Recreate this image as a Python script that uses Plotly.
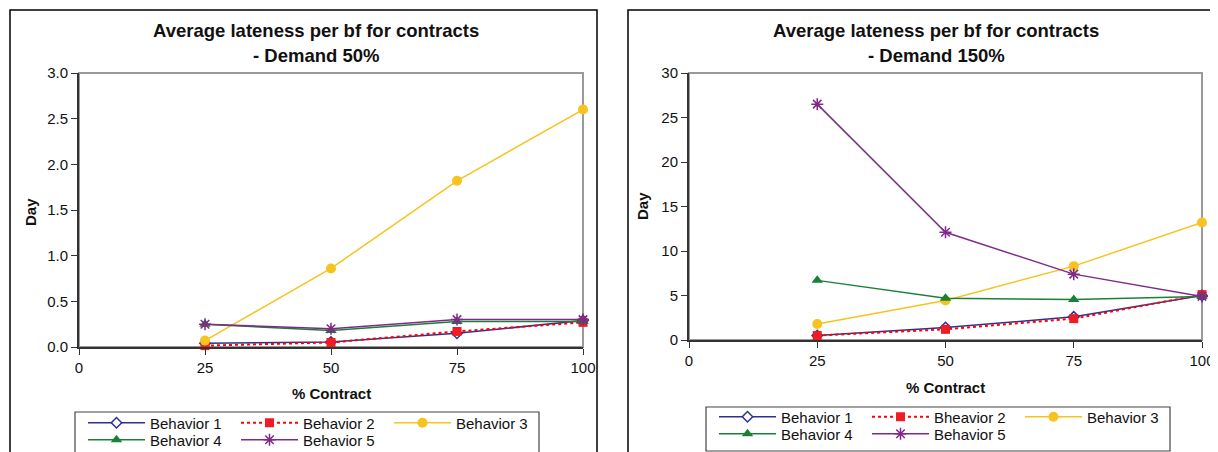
import plotly.graph_objects as go

# The page body adds an 8px offset; the figure is laid out in reference pixels shifted by it.
OFF = 8
W, H = 1210, 444

contract_pct = [25, 50, 75, 100]
series_names_left = ["Behavior 1", "Behavior 2", "Behavior 3", "Behavior 4", "Behavior 5"]
series_names_right = ["Behavior 1", "Bheavior 2", "Behavior 3", "Behavior 4", "Behavior 5"]

# Demand 50%
d50_b1 = [0.04, 0.055, 0.15, 0.29]
d50_b2 = [0.015, 0.05, 0.17, 0.27]
d50_b3 = [0.07, 0.86, 1.82, 2.60]
d50_b4 = [0.25, 0.18, 0.28, 0.28]
d50_b5 = [0.25, 0.20, 0.30, 0.30]

# Demand 150%
d150_b1 = [0.5, 1.4, 2.6, 5.0]
d150_b2 = [0.5, 1.2, 2.4, 5.1]
d150_b3 = [1.8, 4.45, 8.3, 13.2]
d150_b4 = [6.7, 4.7, 4.55, 4.9]
d150_b5 = [26.5, 12.1, 7.4, 4.9]

x_ticks = [0, 25, 50, 75, 100]

FONT = "Liberation Sans, Arial, sans-serif"
styles = [
    dict(line=dict(color="#2E3192", width=1.5),
         marker=dict(symbol="diamond", size=8, color="white", line=dict(color="#2E3192", width=1.5))),
    dict(line=dict(color="#FF0000", width=2, dash="dot"),
         marker=dict(symbol="square", size=9, color="#EE1C25", line=dict(width=0))),
    dict(line=dict(color="#F7C31E", width=1.5),
         marker=dict(symbol="circle", size=10, color="#F7C31E", line=dict(width=0))),
    dict(line=dict(color="#1A8038", width=1.5),
         marker=dict(symbol="triangle-up", size=10, color="#1A8038", line=dict(width=0))),
    dict(line=dict(color="#7F2A88", width=1.5),
         marker=dict(symbol="asterisk-open", size=10, color="#7F2A88", line=dict(color="#7F2A88", width=1.5))),
]

fig = go.Figure()

left_data = [d50_b1, d50_b2, d50_b3, d50_b4, d50_b5]
right_data = [d150_b1, d150_b2, d150_b3, d150_b4, d150_b5]

for i, (name, ys) in enumerate(zip(series_names_left, left_data)):
    fig.add_trace(go.Scatter(x=contract_pct, y=ys, name=name, mode="lines+markers",
                             xaxis="x", yaxis="y", legend="legend" if i < 3 else "legend2",
                             cliponaxis=False, **styles[i]))
for i, (name, ys) in enumerate(zip(series_names_right, right_data)):
    fig.add_trace(go.Scatter(x=contract_pct, y=ys, name=name, mode="lines+markers",
                             xaxis="x2", yaxis="y2", legend="legend3" if i < 3 else "legend4",
                             cliponaxis=False, **styles[i]))

def px(x):
    return (x - OFF) / W

def py(y):
    return (H - (y - OFF)) / H

axis_common = dict(showgrid=False, zeroline=False, showline=True, linecolor="#333333", linewidth=2,
                   ticks="outside", ticklen=6, tickwidth=1, tickcolor="#333333", automargin=False,
                   tickfont=dict(family=FONT, size=15, color="#111111"))

fig.update_layout(
    template="none",
    width=W, height=H, autosize=False,
    margin=dict(l=0, r=0, t=0, b=0, pad=0, autoexpand=False),
    paper_bgcolor="white", plot_bgcolor="white",
    font=dict(family=FONT, color="#111111"),
    xaxis=dict(domain=[px(79), px(583)], range=[0, 100], tickvals=x_ticks, anchor="y", **axis_common),
    yaxis=dict(domain=[py(347), py(73)], range=[0, 3.0], dtick=0.5, tickformat=".1f", anchor="x", **axis_common),
    xaxis2=dict(domain=[px(689), px(1202)], range=[0, 100], tickvals=x_ticks, anchor="y2", **axis_common),
    yaxis2=dict(domain=[py(340), py(73)], range=[0, 30], dtick=5, anchor="x2", **axis_common),
)

leg_common = dict(orientation="h", xanchor="left", yanchor="middle", bgcolor="rgba(0,0,0,0)",
                  borderwidth=0, itemwidth=57, entrywidth=81, entrywidthmode="pixels",
                  font=dict(family=FONT, size=15, color="#111111"), itemclick=False)
fig.update_layout(
    legend=dict(x=px(83), y=py(423), **leg_common),
    legend2=dict(x=px(83), y=py(440), **leg_common),
    legend3=dict(x=px(714), y=py(417), **leg_common),
    legend4=dict(x=px(714), y=py(434), **leg_common),
)

shapes = []
# panel borders
shapes.append(dict(type="rect", xref="paper", yref="paper", x0=px(10), x1=px(597), y0=py(470), y1=py(10),
                   line=dict(color="#000000", width=1.5), layer="below"))
shapes.append(dict(type="rect", xref="paper", yref="paper", x0=px(628), x1=px(1217), y0=py(470), y1=py(10),
                   line=dict(color="#000000", width=1.5), layer="below"))
# plot area gray frames
shapes.append(dict(type="rect", xref="x domain", yref="y domain", x0=0, x1=1, y0=0, y1=1,
                   line=dict(color="#9A9A9A", width=2), layer="below"))
shapes.append(dict(type="rect", xref="x2 domain", yref="y2 domain", x0=0, x1=1, y0=0, y1=1,
                   line=dict(color="#9A9A9A", width=2), layer="below"))
# legend boxes
shapes.append(dict(type="rect", xref="paper", yref="paper", x0=px(75), x1=px(539), y0=py(470), y1=py(412),
                   line=dict(color="#444444", width=1.2), layer="below"))
shapes.append(dict(type="rect", xref="paper", yref="paper", x0=px(706), x1=px(1170), y0=py(451), y1=py(407),
                   line=dict(color="#444444", width=1.2), layer="below"))
fig.update_layout(shapes=shapes)

title_font = dict(family=FONT, size=18.5, color="#111111")
axt_font = dict(family=FONT, size=15, color="#111111")
ann = [
    dict(text="<b>Average lateness per bf for contracts</b>", x=px(316), y=py(30)),
    dict(text="<b>- Demand 50%</b>", x=px(316), y=py(55)),
    dict(text="<b>Average lateness per bf for contracts</b>", x=px(936), y=py(30)),
    dict(text="<b>- Demand 150%</b>", x=px(936), y=py(55)),
]
annotations = [dict(xref="paper", yref="paper", xanchor="center", yanchor="middle", showarrow=False,
                    font=title_font, **a) for a in ann]
axt = [
    dict(text="<b>% Contract</b>", x=px(331), y=py(393), textangle=0),
    dict(text="<b>% Contract</b>", x=px(945), y=py(387), textangle=0),
    dict(text="<b>Day</b>", x=px(30), y=py(212), textangle=-90),
    dict(text="<b>Day</b>", x=px(642), y=py(206), textangle=-90),
]
annotations += [dict(xref="paper", yref="paper", xanchor="center", yanchor="middle", showarrow=False,
                     font=axt_font, **a) for a in axt]
fig.update_layout(annotations=annotations)

fig.write_html("out.html")
